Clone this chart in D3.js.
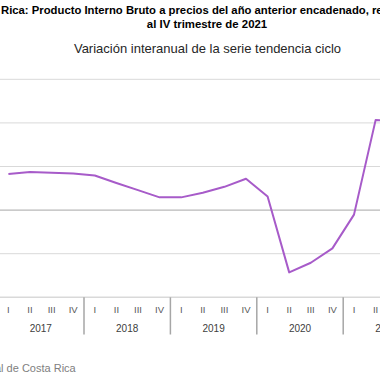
<!DOCTYPE html>
<html>
<head>
<meta charset="utf-8">
<script src="https://cdn.jsdelivr.net/npm/d3@7"></script>
<style>
  body { margin: 0; background: #fff; }
  svg { display: block; font-family: "Liberation Sans", Arial, sans-serif; }
</style>
</head>
<body>
<div id="chart"></div>
<script>
// data (variación interanual, %)
const years = ["2017", "2018", "2019", "2020", "2021"];
const quarters = ["I", "II", "III", "IV"];
const values = [4.13, 4.36, 4.28, 4.19, 3.96, 3.10, 2.29, 1.46, 1.46, 1.98, 2.67, 3.59, 1.55, -7.14, -6.04, -4.39, -0.52, 10.32, 10.3];
const yTicks = [-10, -5, 0, 5, 10, 15];

const width = 380, height = 380;

let svg = d3.select("#chart")
  .append("svg")
  .attr("width", width)
  .attr("height", height);

/** SCALES */
let keys = [];
years.forEach(y => quarters.forEach(q => keys.push(y + "-" + q)));
let step = 21.6;
let x = d3.scaleBand()
  .domain(keys)
  .range([-2.4, -2.4 + step * keys.length])
  .padding(0);
let y = d3.scaleLinear()
  .domain([-10, 15])
  .range([297.3, 79.3]);

/** TITLES */
let t1 = svg.append("text")
  .attr("y", 14)
  .attr("font-weight", "bold")
  .attr("font-size", 11.3)
  .style("fill", "#000");
let pre = t1.append("tspan").text("Costa ");
t1.append("tspan").text("Rica: Producto Interno Bruto a precios del año anterior encadenado, referencia 2017,");
let preW = pre.node().getComputedTextLength();
t1.attr("x", 1 - preW);

svg.append("text")
  .attr("x", 207)
  .attr("y", 27.5)
  .attr("text-anchor", "middle")
  .attr("font-weight", "bold")
  .attr("font-size", 11.4)
  .style("fill", "#000")
  .text("al IV trimestre de 2021");

svg.append("text")
  .attr("x", 207.5)
  .attr("y", 53)
  .attr("text-anchor", "middle")
  .attr("font-size", 13)
  .style("fill", "#262626")
  .text("Variación interanual de la serie tendencia ciclo");

/** GRID */
svg.append("g")
  .selectAll("line")
  .data(yTicks)
  .enter()
  .append("line")
  .attr("x1", 0)
  .attr("x2", width)
  .attr("y1", d => y(d))
  .attr("y2", d => y(d))
  .style("stroke", d => d === 0 ? "#a6a6a6" : "#d9d9d9")
  .style("stroke-width", d => d === -10 ? 1.5 : 1);

/** LINE */
let line = d3.line()
  .x((d, i) => x(keys[i]) + x.bandwidth() / 2)
  .y(d => y(d));
svg.append("path")
  .datum(values)
  .attr("d", line)
  .style("fill", "none")
  .style("stroke", "#a75bc9")
  .style("stroke-width", 2)
  .style("stroke-linejoin", "round");

/** X AXIS */
let axis = svg.append("g");
axis.selectAll("text.q")
  .data(keys)
  .enter()
  .append("text")
  .attr("class", "q")
  .attr("x", d => x(d) + x.bandwidth() / 2)
  .attr("y", 313)
  .attr("text-anchor", "middle")
  .attr("font-size", 9.5)
  .style("fill", "#595959")
  .text(d => d.split("-")[1]);

axis.selectAll("text.yr")
  .data(years)
  .enter()
  .append("text")
  .attr("class", "yr")
  .attr("x", d => x(d + "-I") + step * 2)
  .attr("y", 332)
  .attr("text-anchor", "middle")
  .attr("font-size", 10)
  .style("fill", "#404040")
  .text(d => d);

axis.selectAll("line.sep")
  .data(years.concat(["end"]))
  .enter()
  .append("line")
  .attr("class", "sep")
  .attr("x1", (d, i) => x.range()[0] + i * step * 4)
  .attr("x2", (d, i) => x.range()[0] + i * step * 4)
  .attr("y1", 297.3)
  .attr("y2", 334.5)
  .style("stroke", "#a6a6a6")
  .style("stroke-width", 1.5);

/** SOURCE */
svg.append("text")
  .attr("x", 75.7)
  .attr("y", 372)
  .attr("text-anchor", "end")
  .attr("font-size", 11)
  .style("fill", "#808080")
  .text("Fuente: Banco Central de Costa Rica");
</script>
</body>
</html>
